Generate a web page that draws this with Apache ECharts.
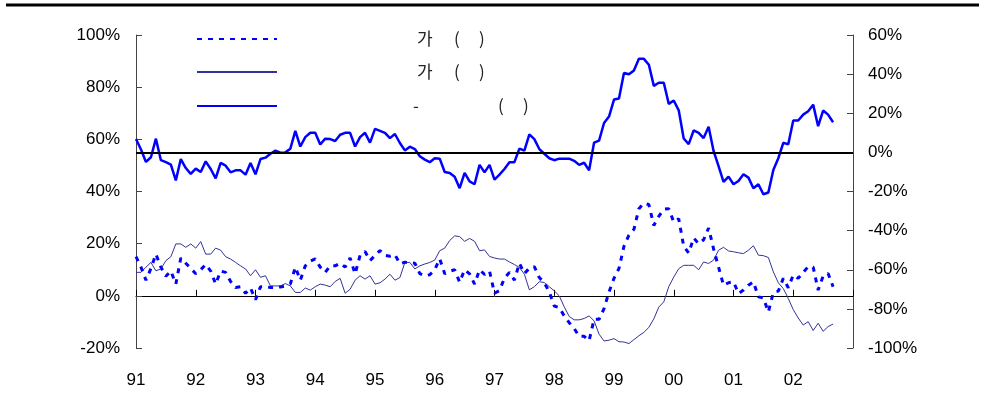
<!DOCTYPE html>
<html>
<head>
<meta charset="utf-8">
<script src="https://cdn.jsdelivr.net/npm/echarts@6/dist/echarts.min.js"></script>
<style>
html,body{margin:0;padding:0;background:#fff}
#chart{width:986px;height:407px}
</style>
</head>
<body>
<div id="chart"></div>
<script>
// year tick labels, one per 12 months starting Jan 1991
var yearLabels = ['91','92','93','94','95','96','97','98','99','00','01','02'];

// monthly values, Jan 1991 onward (left axis, %)
var dashedVals = [15,11,6,10.5,16,11,7.5,9.5,4.5,14.5,12.5,10.5,8.5,10,12,9.5,4.5,9.5,9,5.5,
  3.2,3.5,1,3,-1.5,3.5,3.5,3.2,3.2,3.4,3.8,4.6,11,6,11.5,13.3,14.2,11,9,11.5,
  11.5,12.5,11,14.5,8.4,15.5,17,13.5,15.5,17.4,15.5,15.2,15.8,12.3,12.9,12.7,12.5,8.5,7.7,8.1,
  10,14.2,8.5,9.4,10,5.2,10,8.4,4.5,10,8.2,9.5,1,2,6.8,9,6,12.5,8.5,10.6,
  11.2,7,5,1.5,-3.9,-4.5,-7.7,-10.3,-12.5,-15.5,-15.5,-17.2,-9,-9,-4.9,1.5,6.7,10.5,19,23.3,
  25.5,33.4,35.5,35,27,30.5,33.2,33.4,28.3,29.5,19,16.4,22.2,20,21.5,26,18,11,4,5,
  5.4,0.9,2.2,4.1,5.4,-0.4,-0.8,-6.2,1.3,1.8,6.7,3.1,8,6.7,9,11.2,11,2.2,7.6,8.6,3.5];

var thinVals = [9,9,11,12.8,9.6,10.3,13.5,15,19.9,19.9,18.6,19.9,18.3,20.8,16,16,18.3,17.5,15,14.1,
  12.8,11.5,10.3,7.7,10,7.1,7.7,3.8,3.8,3.8,4.7,3.8,1.3,1.3,3,2.2,3.5,4.5,4.1,3.5,
  5.5,6.7,1,2.5,6,7.7,6.4,7.7,4.5,5,6.4,8.3,6,7,12.8,12.8,10.3,11.5,12.2,12.8,
  13.7,17.3,18.3,21.2,23,22.7,20.9,22,20.9,17.3,17.6,15.1,14.5,14.1,14.1,13,12,10.9,8.3,2.3,
  3.5,5.4,5.1,3.5,1.9,0,-4.2,-7.9,-9.2,-9.2,-8.7,-7.7,-9.6,-14.7,-17.3,-17,-16.4,-17.6,-17.7,-18.3,
  -16.8,-15.3,-14,-12.1,-8.8,-4.3,-2.3,3.5,7.2,10.4,11.7,11.7,11.7,10,13,12.4,13.7,17.5,18.6,17.2,
  16.9,16.5,16.2,17.5,19.2,15.6,15.4,14.7,9.2,5,2.8,-1,-5.3,-8.5,-11.2,-9.9,-13.3,-10.5,-13.6,-11.8,-10.8];

// right axis, %
var thickVals = [6.8,1.5,-4.9,-2.5,7,-4,-5,-6.3,-14.3,-3.4,-8,-11,-8.3,-10,-4.6,-8.5,-13.3,-5.4,-6.8,-10.2,
  -9.2,-9.2,-11.4,-5.4,-11.2,-3.4,-2.7,-0.7,0.9,-0.2,0,1.9,11,3,7.8,10,10,4,7,6.8,
  5.8,9,10,10,3,7.8,10,5,12,11,10,7.3,9.4,4.8,1,2.9,1.7,-2,-3.7,-5,
  -3,-3.2,-10,-10.5,-12.5,-18.3,-10.5,-14.8,-16.3,-6.4,-10.2,-6.4,-13.9,-11.4,-8.5,-5,-5,1.9,0.9,9.2,
  6.8,1.7,-0.7,-3,-4,-3.2,-3.2,-3.2,-4.3,-6.4,-5.3,-9.2,5,6,15,18.3,27,27.5,40.6,39.9,
  41.9,47.8,47.8,44.8,34,35.6,35.6,24.8,26.5,21.5,7.1,4.2,11.2,10,7.3,13.1,0.7,-7,-15.1,-12.4,
  -16.3,-14.6,-11.2,-12.9,-18.3,-16.3,-21.4,-20.5,-9,-3,4.9,4.1,16.3,16.3,19.3,21,24.4,13.4,21.4,19.3,15.4];

var seriesNames = ['가 ( )', '가 ( ) ', '- ( )'];

function toPairs(arr) {
    var out = [];
    for (var i = 0; i < arr.length; i++) out.push([i, arr[i]]);
    return out;
}

var labelFont = 'Liberation Sans, Arial, sans-serif';
var cjkFont = 'Noto Sans CJK KR, sans-serif';

// legend text layout (rich blocks to keep the wide gaps)
var legendRich = {
    sp: {width: 135},
    sp3: {width: 131},
    k: {width: 37, fontFamily: cjkFont, fontSize: 17, color: '#222'},
    d: {width: 85, fontFamily: cjkFont, fontSize: 17, color: '#222'},
    p: {width: 25, fontFamily: cjkFont, fontSize: 17, color: '#222'},
    q: {fontFamily: cjkFont, fontSize: 17, color: '#222'}
};
function legendText(name) {
    if (name === seriesNames[2]) return '{sp3|}{d|-}{p|(}{q|)}';
    return '{sp|}{k|가}{p|(}{q|)}';
}
function makeLegend(name, top) {
    return {
        data: [name], left: 191, top: top,
        itemWidth: 80, itemHeight: 14,
        selectedMode: false,
        itemStyle: {opacity: 0},
        formatter: legendText,
        textStyle: {rich: legendRich, lineHeight: 20}
    };
}

var myChart = echarts.init(document.getElementById('chart'));
var option = {
    animation: false,
    backgroundColor: '#fff',
    graphic: [{
        type: 'line', shape: {x1: 6, y1: 5, x2: 979, y2: 5},
        style: {stroke: '#000', lineWidth: 3}
    }],
    legend: [makeLegend(seriesNames[0], 24), makeLegend(seriesNames[1], 57), makeLegend(seriesNames[2], 91)],
    grid: {left: 136, right: 133, top: 35, bottom: 59, containLabel: false, outerBoundsMode: 'none'},
    xAxis: [{
        // zero line with inward ticks
        type: 'value', min: 0, max: 144, interval: 12,
        axisLine: {onZero: true, lineStyle: {color: '#000', width: 1}},
        axisTick: {inside: true, length: 6, lineStyle: {color: '#000'}},
        axisLabel: {show: false},
        splitLine: {show: false}
    }, {
        // year labels along the bottom
        type: 'value', min: 0, max: 144, interval: 12, position: 'bottom',
        axisLine: {show: false, onZero: false},
        axisTick: {show: false},
        axisLabel: {
            margin: 24, color: '#000', fontFamily: labelFont, fontSize: 17,
            formatter: function (v) { return yearLabels[v / 12] || ''; }
        },
        splitLine: {show: false}
    }],
    yAxis: [{
        type: 'value', min: -20, max: 100, interval: 20,
        axisLine: {show: true, onZero: false, lineStyle: {color: '#444'}},
        axisTick: {show: true, inside: true, length: 6, lineStyle: {color: '#444'}},
        axisLabel: {formatter: '{value}%', color: '#000', fontFamily: labelFont, fontSize: 17, margin: 16},
        splitLine: {show: false}
    }, {
        type: 'value', min: -100, max: 60, interval: 20, position: 'right',
        axisLine: {show: true, onZero: false, lineStyle: {color: '#444'}},
        axisTick: {show: true, inside: true, length: 6, lineStyle: {color: '#444'}},
        axisLabel: {formatter: '{value}%', color: '#000', fontFamily: labelFont, fontSize: 17, margin: 15},
        splitLine: {show: false}
    }],
    series: [{
        name: seriesNames[1], type: 'line', yAxisIndex: 0, symbol: 'none',
        data: toPairs(thinVals),
        lineStyle: {color: '#333399', width: 1},
        itemStyle: {color: '#333399'}
    }, {
        name: seriesNames[0], type: 'line', yAxisIndex: 0, symbol: 'none',
        data: toPairs(dashedVals),
        lineStyle: {color: '#0000ff', width: 3, type: [5, 6]},
        itemStyle: {color: '#0000ff'}
    }, {
        name: seriesNames[2], type: 'line', yAxisIndex: 1, symbol: 'none',
        data: toPairs(thickVals),
        lineStyle: {color: '#0000ff', width: 2.5},
        itemStyle: {color: '#0000ff'},
        markLine: {
            silent: true, symbol: 'none', label: {show: false},
            lineStyle: {color: '#000', width: 2, type: 'solid'},
            data: [{yAxis: 0}]
        }
    }]
};
myChart.setOption(option);
</script>
</body>
</html>
